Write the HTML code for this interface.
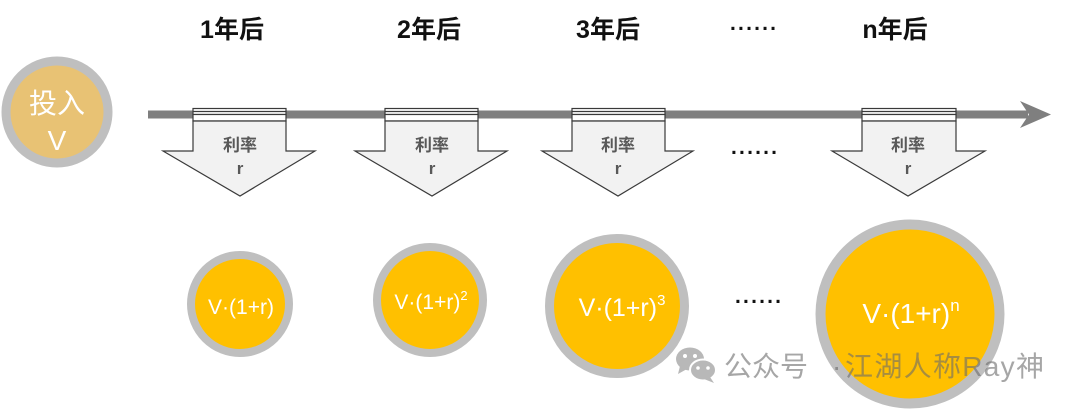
<!DOCTYPE html>
<html><head><meta charset="utf-8"><style>
html,body{margin:0;padding:0;background:#fff;}
svg{display:block;}
</style></head><body>
<svg width="1080" height="409" viewBox="0 0 1080 409" xmlns="http://www.w3.org/2000/svg">
<rect width="1080" height="409" fill="#fff"/>
<!-- top labels -->
<g font-family="Liberation Sans, Noto Sans CJK SC, sans-serif" font-weight="bold" font-size="25" fill="#111">
<text x="232" y="38" text-anchor="middle">1年后</text>
<text x="429" y="38" text-anchor="middle">2年后</text>
<text x="608" y="38" text-anchor="middle">3年后</text>
<text x="895" y="38" text-anchor="middle">n年后</text>
</g>
<g font-family="Liberation Sans, sans-serif" font-weight="bold" font-size="21" fill="#111">
<text x="730" y="30" textLength="46" lengthAdjust="spacing">......</text>
<text x="731" y="154" textLength="46" lengthAdjust="spacing">......</text>
<text x="735" y="303" textLength="46" lengthAdjust="spacing">......</text>
</g>
<!-- timeline -->
<rect x="148" y="110.5" width="880" height="8" fill="#7f7f7f"/>
<polygon points="1020,101 1051,114.5 1020,128 1029,114.5" fill="#7f7f7f"/>
<!-- start circle -->
<circle cx="57" cy="112" r="51" fill="#e8c274" stroke="#bfbfbf" stroke-width="9"/>
<g font-family="Liberation Sans, Noto Sans CJK SC, sans-serif" font-size="28" fill="#fff" text-anchor="middle">
<text x="57" y="113">投入</text>
<text x="57" y="150">V</text>
</g>
<!-- down arrows -->
<g stroke="#3a3a3a" stroke-width="1.2">
<g>
<rect x="193" y="108.5" width="93" height="6" fill="#fff"/>
<line x1="193" y1="111.5" x2="286" y2="111.5"/>
<rect x="193" y="114.5" width="93" height="6.5" fill="#fff"/>
<polygon points="193,121 286,121 286,151 315,151 240,196 163,151 193,151" fill="#f2f2f2"/>
</g>
<g>
<rect x="385" y="108.5" width="93" height="6" fill="#fff"/>
<line x1="385" y1="111.5" x2="478" y2="111.5"/>
<rect x="385" y="114.5" width="93" height="6.5" fill="#fff"/>
<polygon points="385,121 478,121 478,151 507,151 432,196 355,151 385,151" fill="#f2f2f2"/>
</g>
<g>
<rect x="572" y="108.5" width="93" height="6" fill="#fff"/>
<line x1="572" y1="111.5" x2="665" y2="111.5"/>
<rect x="572" y="114.5" width="93" height="6.5" fill="#fff"/>
<polygon points="572,121 665,121 665,151 693,151 618,196 542,151 572,151" fill="#f2f2f2"/>
</g>
<g>
<rect x="862" y="108.5" width="94" height="6" fill="#fff"/>
<line x1="862" y1="111.5" x2="956" y2="111.5"/>
<rect x="862" y="114.5" width="94" height="6.5" fill="#fff"/>
<polygon points="862,121 956,121 956,151 985,151 908,196 832,151 862,151" fill="#f2f2f2"/>
</g>
</g>
<g font-family="Liberation Sans, Noto Sans CJK SC, sans-serif" font-weight="bold" font-size="17" fill="#595959" text-anchor="middle">
<text x="240" y="151">利率</text><text x="240" y="174">r</text>
<text x="432" y="151">利率</text><text x="432" y="174">r</text>
<text x="618" y="151">利率</text><text x="618" y="174">r</text>
<text x="908" y="151">利率</text><text x="908" y="174">r</text>
</g>
<!-- result circles -->
<circle cx="240" cy="304" r="49" fill="#ffc000" stroke="#bfbfbf" stroke-width="8"/>
<circle cx="430" cy="300" r="53" fill="#ffc000" stroke="#bfbfbf" stroke-width="8"/>
<circle cx="617" cy="306" r="67.5" fill="#ffc000" stroke="#bfbfbf" stroke-width="9"/>
<circle cx="910" cy="314" r="89.5" fill="#ffc000" stroke="#bfbfbf" stroke-width="10"/>
<g font-family="Liberation Sans, sans-serif" fill="#fff" text-anchor="middle">
<text x="241" y="314" font-size="21">V·(1+r)</text>
<text x="431" y="309" font-size="21">V·(1+r)<tspan font-size="13" dy="-9">2</tspan></text>
<text x="622" y="316" font-size="25">V·(1+r)<tspan font-size="15" dy="-11">3</tspan></text>
<text x="911" y="323" font-size="28">V·(1+r)<tspan font-size="17" dy="-12">n</tspan></text>
</g>
<!-- watermark -->
<g opacity="0.6">
<ellipse cx="690" cy="359" rx="14" ry="11.5" fill="#8a8a8a"/>
<polygon points="680,366 678,374 687,369" fill="#8a8a8a"/>
<ellipse cx="703" cy="370" rx="13" ry="10.5" fill="#8a8a8a" stroke="#fff" stroke-width="2"/>
<polygon points="710,377 714,383 704,379" fill="#8a8a8a"/>
<circle cx="685" cy="356" r="2" fill="#fff"/>
<circle cx="695" cy="356" r="2" fill="#fff"/>
<circle cx="698" cy="368" r="1.8" fill="#fff"/>
<circle cx="708" cy="368" r="1.8" fill="#fff"/>
</g>
<g font-family="Liberation Sans, Noto Sans CJK SC, sans-serif" font-size="28" fill="#6a6a6a" fill-opacity="0.6">
<text x="724" y="376" textLength="84" lengthAdjust="spacing">公众号</text>
<text x="832" y="376">·</text>
<text x="845" y="376" textLength="199" lengthAdjust="spacing">江湖人称Ray神</text>
</g>
</svg>
</body></html>
